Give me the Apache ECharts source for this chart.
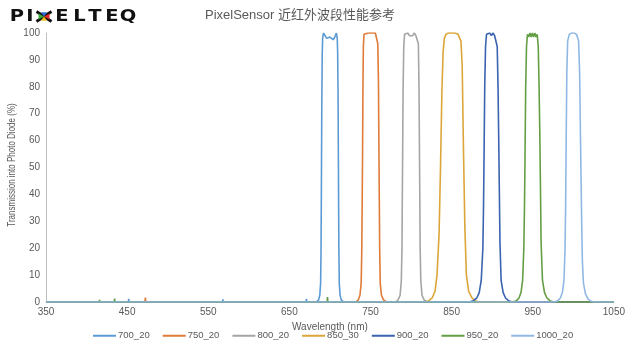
<!DOCTYPE html>
<html>
<head>
<meta charset="utf-8">
<script src="https://cdn.jsdelivr.net/npm/echarts@6/dist/echarts.min.js"></script>
<style>
  html, body { margin: 0; padding: 0; background: #fff; }
  #chart { width: 628px; height: 341px; }
</style>
</head>
<body>
<div id="chart"></div>
<script>
// wavelength (nm) / transmission (%), one pair of arrays per filter
const wl700 = [350, 451.5, 452, 452.5, 567.5, 568, 568.5, 595.5, 596, 596.5, 670.5, 671, 671.5, 683, 686, 687.5, 688.5, 689, 689.5, 690, 690.5, 691, 692, 694, 696, 698, 700, 702, 704, 706, 708, 709, 709.5, 710, 710.5, 711, 711.5, 712.5, 714, 717, 1050]
const t700  = [0, 0, 1.2, 0, 0, 1, 0, 0, 0.5, 0, 0, 1.2, 0, 0, 0.8, 2.5, 7, 18, 45, 75, 92, 98, 100, 99.5, 98, 97.5, 98.5, 98, 97.5, 98.5, 100, 98, 93, 78, 48, 20, 7, 2.5, 0.8, 0, 0]

const wl750 = [350, 472, 472.5, 473, 589.5, 590, 590.5, 732, 735, 737, 738.5, 739.2, 739.7, 740.2, 740.7, 741.2, 742, 744, 747, 750, 753, 756, 758, 759, 759.8, 760.3, 760.8, 761.3, 762, 763.5, 766, 770, 1050]
const t750  = [0, 0, 1.6, 0, 0, 0.4, 0, 0, 0.8, 2.5, 7, 18, 35, 55, 80, 95, 99.5, 100, 100, 100, 100, 100, 99.5, 96, 82, 60, 40, 20, 7, 2.5, 0.8, 0, 0]

const wl800 = [350, 781, 784, 786.5, 788, 788.8, 789.5, 790.2, 791, 792, 794, 796, 798, 800, 802, 804, 806, 808, 809, 809.8, 810.5, 811.2, 812, 813.5, 816, 820, 1050]
const t800  = [0, 0, 0.8, 2.5, 8, 20, 50, 80, 95, 99.5, 99, 100, 99, 99.5, 99, 100, 99, 99.5, 96, 80, 50, 20, 8, 2.5, 0.8, 0, 0]

const wl850 = [350, 817, 822, 826, 829.5, 832, 834.5, 836.3, 838, 839.5, 841, 843, 846, 850, 854, 858, 860, 861.5, 863, 864.7, 866.3, 868.2, 871, 875, 879, 884, 1050]
const t850  = [0, 0, 0.5, 1.5, 4, 10, 25, 50, 78, 93, 98, 99.5, 100, 100, 100, 99.5, 99, 97, 88, 55, 28, 10, 4, 1.5, 0.5, 0, 0]

const wl900 = [350, 872, 877, 881, 884, 886.5, 888.5, 889.3, 890, 890.8, 891.8, 893, 895, 897, 899, 901, 903, 905, 906.2, 907.2, 908, 908.8, 909.6, 911, 913.5, 916.5, 920, 925, 1050]
const t900  = [0, 0, 0.5, 1.5, 3.5, 8, 20, 35, 55, 80, 95, 99.5, 99, 100, 99, 100, 99, 99.5, 95, 80, 62, 42, 22, 8, 3.5, 1.5, 0.5, 0, 0]

const wl950 = [350, 415.5, 416, 416.5, 434, 434.5, 435, 696.5, 697, 697.5, 729.5, 730, 730.5, 925, 930, 933, 935.5, 937.5, 939, 939.8, 940.5, 941.3, 942.3, 943.5, 945, 946.5, 948, 949.5, 951, 952.5, 954, 955.5, 956.8, 957.8, 958.6, 959.4, 960.3, 962, 964.5, 967.5, 971, 976, 1050]
const t950  = [0, 0, 0.8, 0, 0, 1.3, 0, 0, 1.8, 0, 0, 0.6, 0, 0, 0.5, 1.5, 3.5, 8, 20, 35, 55, 80, 95, 99.5, 98.5, 100, 98.5, 100, 98.5, 100, 98.5, 99.5, 95, 80, 65, 45, 22, 8, 3.5, 1.5, 0.5, 0, 0]

const wl1000 = [350, 976, 981, 984, 986.5, 988.5, 989.8, 990.5, 991.2, 992, 993, 995, 998, 1001, 1004, 1006.5, 1007.8, 1008.8, 1009.6, 1010.4, 1011.2, 1012.5, 1015, 1018, 1021, 1026, 1050]
const t1000  = [0, 0, 0.5, 1.5, 3.5, 8, 20, 35, 60, 85, 97, 99.5, 100, 100, 99.5, 97, 85, 62, 45, 28, 15, 7, 3, 1.2, 0.4, 0, 0]

const seriesNames = ['700_20', '750_20', '800_20', '850_30', '900_20', '950_20', '1000_20']
const seriesWl = [wl700, wl750, wl800, wl850, wl900, wl950, wl1000]
const seriesT = [t700, t750, t800, t850, t900, t950, t1000]
const COLORS = ['#5B9BD5', '#E07B39', '#A5A5A5', '#DCA53A', '#3A63B0', '#639E45', '#91B8E4']

const FONT = '"Liberation Sans", Arial, "Noto Sans CJK SC", sans-serif'
const GREY = '#595959'

// logo letters: [char, centre x]
const logoLetters = [['P', 17], ['I', 30], ['E', 62], ['L', 79.5], ['T', 95], ['E', 112], ['Q', 128]]

const logo = logoLetters.map(([ch, cx]) => ({
  type: 'text',
  x: cx,
  y: 16.5,
  scaleX: 1.3,
  scaleY: 1.05,
  style: { text: ch, x: 0, y: 0, align: 'center', verticalAlign: 'middle', font: 'bold 15px "DejaVu Sans", sans-serif', fill: '#111' }
}))
logo.push(
  { type: 'line', shape: { x1: 36.5, y1: 11.5, x2: 51.5, y2: 21.5 }, style: { stroke: '#111', lineWidth: 3 } },
  { type: 'line', shape: { x1: 51.5, y1: 11.5, x2: 36.5, y2: 21.5 }, style: { stroke: '#111', lineWidth: 3 } },
  { type: 'polygon', shape: { points: [[44, 16.5], [41, 12.2], [47, 12.2]] }, style: { fill: '#2E6FD8' } },
  { type: 'polygon', shape: { points: [[44, 16.5], [49.5, 13.5], [49.5, 19.5]] }, style: { fill: '#E02828' } },
  { type: 'polygon', shape: { points: [[44, 16.5], [47, 20.8], [41, 20.8]] }, style: { fill: '#F2C318' } },
  { type: 'polygon', shape: { points: [[44, 16.5], [38.5, 19.5], [38.5, 13.5]] }, style: { fill: '#3BAA3B' } }
)

const chart = echarts.init(document.getElementById('chart'), null, { renderer: 'canvas' })

chart.setOption({
  animation: false,
  backgroundColor: '#fff',
  color: COLORS,
  graphic: [
    ...logo,
    {
      type: 'text',
      x: 300,
      y: 15,
      style: { text: 'PixelSensor 近红外波段性能参考', align: 'center', verticalAlign: 'middle', font: '13px ' + FONT, fill: GREY }
    },
    {
      // y axis title, condensed like the original
      type: 'text',
      x: 12,
      y: 165,
      rotation: Math.PI / 2,
      scaleX: 0.8,
      style: { text: 'Transmission into Photo Diode (%)', align: 'center', verticalAlign: 'middle', font: '10px ' + FONT, fill: GREY }
    }
  ],
  legend: {
    left: 88,
    top: 326,
    icon: 'rect',
    itemWidth: 23,
    itemHeight: 2,
    itemGap: 13,
    textStyle: { fontSize: 9.5, color: GREY, fontFamily: FONT, padding: [0, 0, 0, -3] },
    data: seriesNames
  },
  grid: { left: 46, right: 11, top: 33, bottom: 39 },
  xAxis: {
    type: 'value',
    min: 350,
    max: 1050,
    interval: 100,
    name: 'Wavelength (nm)',
    nameLocation: 'middle',
    nameGap: 16,
    nameTextStyle: { fontSize: 10, color: GREY, fontFamily: FONT },
    axisLine: { lineStyle: { color: '#BFBFBF', width: 1 } },
    axisTick: { show: false },
    splitLine: { show: false },
    axisLabel: { fontSize: 10, color: GREY, fontFamily: FONT, margin: 5, formatter: (v) => String(v) }
  },
  yAxis: {
    type: 'value',
    min: 0,
    max: 100,
    interval: 10,
    axisLine: { show: true, lineStyle: { color: '#BFBFBF', width: 1 } },
    axisTick: { show: false },
    splitLine: { show: false },
    axisLabel: { fontSize: 10, color: GREY, fontFamily: FONT, margin: 6 }
  },
  series: seriesNames.map((name, k) => ({
    name,
    type: 'line',
    showSymbol: false,
    symbol: 'none',
    lineStyle: { width: 1.6 },
    data: seriesWl[k].map((w, i) => [w, seriesT[k][i]])
  }))
})
</script>
</body>
</html>
